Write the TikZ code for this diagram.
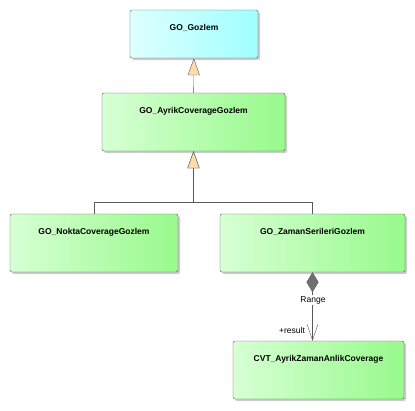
\documentclass[tikz,border=0pt]{standalone}
\usepackage{fontspec}
\setmainfont{Liberation Sans}
\usetikzlibrary{arrows.meta,shadows}
\definecolor{lineclr}{RGB}{90,90,90}
\definecolor{greenL}{RGB}{215,255,212}
\definecolor{greenR}{RGB}{152,250,140}
\definecolor{cyanL}{RGB}{222,255,255}
\definecolor{cyanR}{RGB}{160,255,255}
\definecolor{peach}{RGB}{252,220,170}
\definecolor{diam}{RGB}{112,112,112}
\tikzstyle{classbox}=[rectangle,rounded corners=2pt,draw=lineclr,inner sep=0pt,
text height=20pt,text depth=38pt,font=\fontsize{8.5}{10}\selectfont\bfseries,
left color=greenL,right color=greenR,
drop shadow={shadow xshift=2pt,shadow yshift=-2pt,fill=black!40,opacity=0.5}]
\tikzstyle{rootbox}=[classbox,left color=cyanL,right color=cyanR,text depth=28pt]
\tikzstyle{gen}=[draw=lineclr,-{Triangle[open,fill=peach,length=17pt,width=12pt]}]
\tikzstyle{comp}=[draw=lineclr,{Diamond[fill=diam,length=20pt,width=12pt]}-{Straight Barb[length=16pt,width=11pt,line width=0.4pt]}]
\tikzstyle{lbl}=[font=\fontsize{8.5}{10}\selectfont,inner sep=1pt]

\begin{document}
\begin{tikzpicture}[x=1pt,y=-1pt]
    \useasboundingbox (0,0) rectangle (415,410);
        \node (gozlem) [rootbox,minimum width=128pt] at (194,34) {GO\_Gozlem};
        \node (ayrik) [classbox,minimum width=183pt] at (193.5,122) {GO\_AyrikCoverageGozlem};
        \node (nokta) [classbox,minimum width=168pt] at (94,243) {GO\_NoktaCoverageGozlem};
        \node (zaman) [classbox,minimum width=185pt] at (312.5,243) {GO\_ZamanSerileriGozlem};
        \node (cvt) [classbox,minimum width=171pt] at (318.5,370) {CVT\_AyrikZamanAnlikCoverage};
        \coordinate (bus) at (193.5,202);

        \draw [gen] (ayrik) -- (gozlem);
        \draw [gen] (nokta.north) |- (bus) -- (ayrik.south);
        \draw [gen] (zaman.north) |- (bus) -- (ayrik.south);
        \draw [comp] (zaman.south) -- (zaman.south |- cvt.north);

        \node (range) [lbl,fill=white] at (313,300) {Range};
        \node (result) [lbl] at (292,330) {+result};
    \end{tikzpicture}
\end{document}
